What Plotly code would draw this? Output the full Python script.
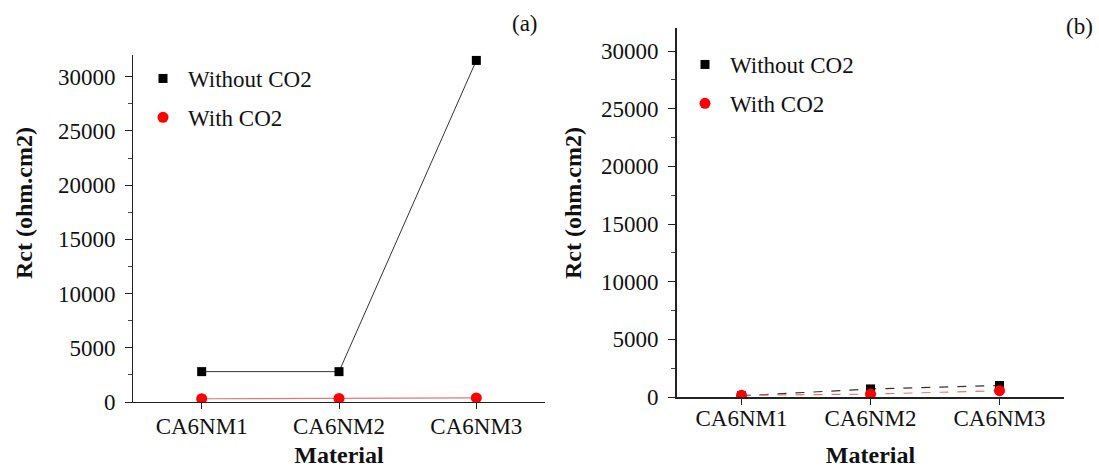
import plotly.graph_objects as go

categories = ["CA6NM1", "CA6NM2", "CA6NM3"]
a_without = [2800, 2800, 31500]
a_with = [300, 330, 380]
b_without = [100, 700, 1000]
b_with = [150, 250, 550]
y_ticks = [0, 5000, 10000, 15000, 20000, 25000, 30000]
y_minor = [2500, 7500, 12500, 17500, 22500, 27500]

W, H = 1099, 468
FONT = "Liberation Serif, Times New Roman, serif"
BLACK = "#000000"
RED = "#ff0000"
TXT = "#111111"

fig = go.Figure()

def add_panel(xa, ya, without, with_, legend, dash_black, dash_red, lw_black):
    fig.add_trace(go.Scatter(x=categories, y=without, mode="lines",
                             line=dict(color="#333333", width=lw_black, dash=dash_black),
                             xaxis=xa, yaxis=ya, showlegend=False, hoverinfo="skip"))
    fig.add_trace(go.Scatter(x=categories, y=with_, mode="lines",
                             line=dict(color="#e07878", width=1.2, dash=dash_red),
                             xaxis=xa, yaxis=ya, showlegend=False, hoverinfo="skip"))
    fig.add_trace(go.Scatter(x=categories, y=without, mode="markers", name="Without CO2",
                             marker=dict(symbol="square", size=9, color=BLACK),
                             xaxis=xa, yaxis=ya, legend=legend, legendgroup=legend + "w"))
    fig.add_trace(go.Scatter(x=categories, y=with_, mode="markers", name="With CO2",
                             marker=dict(symbol="circle", size=11, color=RED),
                             xaxis=xa, yaxis=ya, legend=legend, legendgroup=legend + "c"))

add_panel("x", "y", a_without, a_with, "legend", "solid", "solid", 1)
add_panel("x2", "y2", b_without, b_with, "legend2", "dash", "dash", 1.2)

tickfont = dict(family=FONT, size=23, color=TXT)
titlefont = dict(family=FONT, size=24, color=TXT, weight="bold")

def xaxis(domain, anchor, lw, label_standoff, standoff):
    return dict(domain=domain, anchor=anchor, type="category", range=[-0.5, 2.5],
                automargin=False, ticklabelstandoff=label_standoff,
                showline=True, linecolor="#222222", linewidth=lw, ticks="outside",
                ticklen=6, tickcolor="#222222", tickfont=tickfont, showgrid=False,
                zeroline=False, title=dict(text="Material", font=titlefont, standoff=standoff),
                fixedrange=True)

def yaxis(domain, anchor, lw):
    return dict(domain=domain, anchor=anchor, range=[0, 32000], tickvals=y_ticks,
                tickformat="d", automargin=False,
                showline=True, linecolor="#222222", linewidth=lw, ticks="outside",
                ticklen=7, tickcolor="#222222", tickfont=tickfont, showgrid=False,
                zeroline=False, ticklabelstandoff=5,
                minor=dict(tickvals=y_minor, ticks="outside", ticklen=4, tickcolor="#444444"),
                fixedrange=True)

fig.update_layout(
    width=W, height=H, margin=dict(l=0, r=0, t=0, b=0, autoexpand=False),
    font=dict(family=FONT, color=TXT),
    paper_bgcolor="white", plot_bgcolor="white",
    xaxis=xaxis([133 / W, 545 / W], "y", 1, -3, 10),
    yaxis=yaxis([1 - 402 / H, 1 - 55 / H], "x", 1),
    xaxis2=xaxis([677 / W, 1064 / W], "y2", 1.6, -6, 18),
    yaxis2=yaxis([1 - 397 / H, 1 - 28 / H], "x2", 1.6),
    legend=dict(x=138 / W, y=1 - 57 / H, xanchor="left", yanchor="top",
                font=dict(family=FONT, size=23, color=TXT), bgcolor="rgba(0,0,0,0)",
                tracegroupgap=6, itemsizing="trace", itemwidth=40),
    legend2=dict(x=680 / W, y=1 - 43 / H, xanchor="left", yanchor="top",
                 font=dict(family=FONT, size=23, color=TXT), bgcolor="rgba(0,0,0,0)",
                 tracegroupgap=6, itemsizing="trace", itemwidth=40),
    annotations=[
        dict(text="(a)", x=525 / W, y=1 - 23 / H, xref="paper", yref="paper", showarrow=False,
             xanchor="center", yanchor="middle", font=dict(family=FONT, size=23, color=TXT)),
        dict(text="(b)", x=1079 / W, y=1 - 26 / H, xref="paper", yref="paper", showarrow=False,
             xanchor="center", yanchor="middle", font=dict(family=FONT, size=23, color=TXT)),
        dict(text="Rct (ohm.cm2)", x=24 / W, y=1 - 203 / H, xref="paper", yref="paper",
             xanchor="center", yanchor="middle",
             showarrow=False, textangle=-90, font=titlefont),
        dict(text="Rct (ohm.cm2)", x=573 / W, y=1 - 203 / H, xref="paper", yref="paper",
             xanchor="center", yanchor="middle",
             showarrow=False, textangle=-90, font=titlefont),
    ],
)

fig.write_html("out.html")
